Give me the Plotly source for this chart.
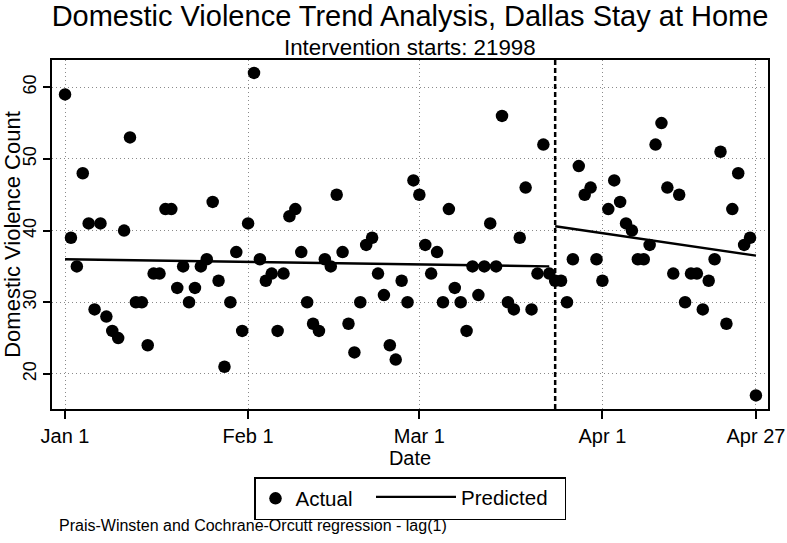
import pandas as pd
import plotly.graph_objects as go

# Daily domestic violence counts, Jan 1 - Apr 27, 2020
counts = [59, 39, 35, 48, 41, 29, 41, 28, 26, 25,
          40, 53, 30, 30, 24, 34, 34, 43, 43, 32,
          35, 30, 32, 35, 36, 44, 33, 21, 30, 37,
          26, 41, 62, 36, 33, 34, 26, 34, 42, 43,
          37, 30, 27, 26, 36, 35, 45, 37, 27, 23,
          30, 38, 39, 34, 31, 24, 22, 33, 30, 47,
          45, 38, 34, 37, 30, 43, 32, 30, 26, 35,
          31, 35, 41, 35, 56, 30, 29, 39, 46, 29,
          34, 52, 34, 33, 33, 30, 36, 49, 45, 46,
          36, 33, 43, 47, 44, 41, 40, 36, 36, 38,
          52, 55, 46, 34, 45, 30, 34, 34, 29, 33,
          36, 51, 27, 43, 48, 38, 39, 17]
start_date = "2020-01-01"
dates = pd.date_range(start_date, periods=len(counts), freq="D")

intervention_date = "2020-03-24"   # Stata date 21998
pred_pre_dates = ["2020-01-01", "2020-03-23"]
pred_pre_vals = [36.0, 35.0]
pred_post_dates = ["2020-03-24", "2020-04-27"]
pred_post_vals = [40.6, 36.5]

tick_vals = ["2020-01-01", "2020-02-01", "2020-03-01", "2020-04-01", "2020-04-27"]
tick_text = ["Jan 1", "Feb 1", "Mar 1", "Apr 1", "Apr 27"]
y_ticks = [20, 30, 40, 50, 60]

FONT = "Liberation Sans, Arial, sans-serif"
W, H = 787, 543
ML, MR, MT, MB = 52, 19, 60, 134
PW, PH = W - ML - MR, H - MT - MB

fig = go.Figure()
fig.add_trace(go.Scatter(
    x=dates, y=counts, mode="markers", name="Actual",
    marker=dict(color="black", size=12.5, line=dict(width=0)),
    legend="legend",
))
fig.add_trace(go.Scatter(
    x=pred_pre_dates, y=pred_pre_vals, mode="lines", name="Predicted",
    line=dict(color="black", width=2.4), legendgroup="pred", legend="legend2",
))
fig.add_trace(go.Scatter(
    x=pred_post_dates, y=pred_post_vals, mode="lines", name="Predicted",
    line=dict(color="black", width=2.4), legendgroup="pred", showlegend=False,
    legend="legend2",
))

fig.add_shape(type="line", xref="x", yref="paper",
              x0=intervention_date, x1=intervention_date, y0=0, y1=1,
              line=dict(color="black", width=2.5, dash="5px,3px"))

leg_top = -(477 - (MT + PH)) / PH
fig.update_layout(
    width=W, height=H,
    margin=dict(l=ML, r=MR, t=MT, b=MB),
    paper_bgcolor="white", plot_bgcolor="white",
    font=dict(family=FONT, color="black"),
    title=dict(text="Domestic Violence Trend Analysis, Dallas Stay at Home",
               x=0.5, xanchor="center", xref="paper",
               y=1 - 16 / H, yanchor="middle", yref="container",
               font=dict(size=29, family=FONT, color="black")),
    showlegend=True,
    legend=dict(orientation="h", x=(254 - ML) / PW, xanchor="left", y=leg_top, yanchor="top",
                bordercolor="black", borderwidth=1.5, bgcolor="rgba(0,0,0,0)",
                font=dict(size=20.5, family=FONT, color="black"),
                itemwidth=30, entrywidth=264),
    legend2=dict(orientation="h", x=(371 - ML) / PW, xanchor="left", y=leg_top, yanchor="top",
                 borderwidth=0, bgcolor="rgba(0,0,0,0)",
                 font=dict(size=20.5, family=FONT, color="black"),
                 itemwidth=80),
)
fig.add_annotation(text="Intervention starts: 21998", xref="paper", yref="paper",
                   x=0.5, y=1 + (MT - 47) / PH, xanchor="center", yanchor="middle",
                   showarrow=False, font=dict(size=22.3, family=FONT, color="black"))
fig.add_annotation(text="Prais-Winsten and Cochrane-Orcutt regression - lag(1)",
                   xref="paper", yref="paper",
                   x=(57 - ML) / PW, y=-(525 - (MT + PH)) / PH, xanchor="left", yanchor="middle",
                   showarrow=False, font=dict(size=16, family=FONT, color="black"))

fig.update_xaxes(
    type="date", range=["2019-12-29 19:00", "2020-04-29 01:00"],
    tickvals=tick_vals, ticktext=tick_text, automargin=False,
    tickfont=dict(size=20, family=FONT, color="black"),
    ticks="outside", ticklen=8, tickwidth=1.5, tickcolor="black",
    showgrid=True, gridcolor="#8a8a8a", griddash="1px,3px", gridwidth=1.3,
    showline=True, linecolor="black", linewidth=2.2, mirror=True,
    zeroline=False,
    title=dict(text="Date", font=dict(size=20, family=FONT, color="black"), standoff=0),
)
fig.update_yaxes(
    range=[15.1, 63.8], tickvals=y_ticks, automargin=False,
    tickangle=-90,
    tickfont=dict(size=18, family=FONT, color="black"),
    ticks="outside", ticklen=7, tickwidth=1.5, tickcolor="black",
    showgrid=True, gridcolor="#8a8a8a", griddash="1px,3px", gridwidth=1.3,
    showline=True, linecolor="black", linewidth=2.2, mirror=True,
    zeroline=False,
    title=dict(text="Domestic Violence Count", font=dict(size=22, family=FONT, color="black"), standoff=3),
)

fig.write_html("out.html", config={"displayModeBar": False},
               post_script="document.body.style.margin='0px';")
